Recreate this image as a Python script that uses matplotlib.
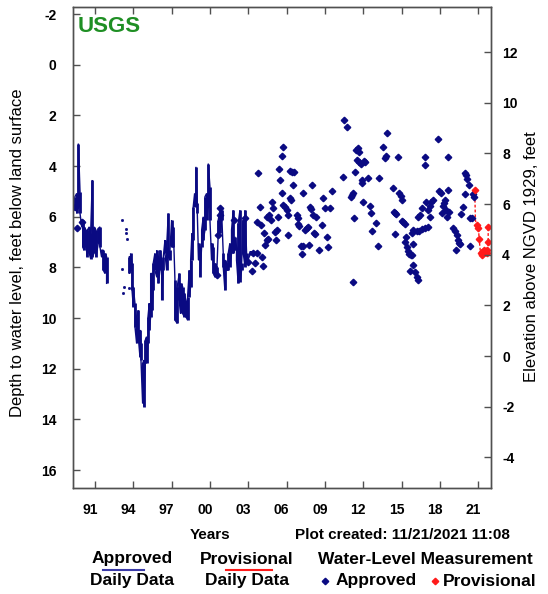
import numpy as np
import matplotlib
matplotlib.use("Agg")
import matplotlib.pyplot as plt
from matplotlib.transforms import ScaledTranslation

plt.rcParams['font.family'] = ['Liberation Sans', 'DejaVu Sans']

# ---- Daily data (approved): decimal year, shallowest and deepest depth of each period ----
daily1_year = [1989.30, 1989.43, 1989.57, 1989.70, 1989.83, 1989.96, 1990.04, 1990.14,
               1990.30, 1990.40, 1990.56, 1990.66, 1990.79, 1990.92, 1991.08, 1991.26,
               1991.39, 1991.52, 1991.65, 1991.78, 1991.91]
daily1_top = [5.34, 5.21, 5.08, 3.11, 5.01, 6.13, 6.13, 6.40, 6.53, 6.53, 6.40, 6.66, 4.55,
              6.40, 6.53, 6.46, 6.40, 7.32, 7.32, 7.45, 7.58]
daily1_bot = [5.61, 5.74, 5.87, 5.61, 5.87, 6.40, 7.19, 7.32, 7.19, 7.58, 7.45, 7.65, 7.58,
              7.45, 7.58, 7.05, 7.19, 7.58, 8.11, 8.24, 8.63]

daily2_year = [1993.69, 1993.79, 1993.90, 1994.00, 1994.13, 1994.26, 1994.39, 1994.52,
               1994.60, 1994.73, 1994.83, 1994.94, 1995.04, 1995.15, 1995.25, 1995.36,
               1995.46, 1995.56, 1995.69, 1995.83, 1995.96, 1996.09, 1996.22, 1996.35,
               1996.48, 1996.61, 1996.74, 1996.87, 1997.00, 1997.13, 1997.26, 1997.44,
               1997.60, 1997.70, 1997.86, 1997.99, 1998.12, 1998.25, 1998.38, 1998.49,
               1998.59, 1998.69, 1998.80, 1998.90, 1999.01, 1999.11, 1999.22, 1999.35,
               1999.48, 1999.61, 1999.74, 1999.87, 2000.00, 2000.13, 2000.26, 2000.39,
               2000.52, 2000.65, 2000.78, 2000.91, 2001.04, 2001.17, 2001.30, 2001.43,
               2001.56, 2001.69, 2001.82, 2001.95, 2002.08, 2002.21, 2002.35, 2002.48,
               2002.61, 2002.74, 2002.87, 2003.13, 2003.39, 2003.65, 2003.78]
daily2_top = [7.58, 7.45, 7.84, 8.76, 9.42, 9.95, 9.69, 10.47, 11.00, 11.79, 11.66, 10.87,
              10.74, 9.95, 9.42, 8.24, 8.24, 7.84, 7.45, 7.32, 7.58, 7.32, 7.71, 7.58,
              6.92, 7.19, 5.87, 7.32, 6.13, 6.40, 8.50, 8.76, 8.24, 8.63, 8.76, 9.03,
              9.29, 9.16, 8.11, 7.71, 6.66, 5.61, 5.08, 4.03, 5.47, 7.05, 7.18, 6.53,
              6.00, 5.21, 5.08, 3.90, 4.82, 7.05, 7.18, 7.84, 7.97, 6.13, 5.74, 5.74,
              7.45, 7.71, 7.84, 7.45, 7.05, 6.53, 5.74, 6.79, 7.18, 6.26, 5.74, 7.84,
              6.13, 5.74, 7.45, 7.38, 7.38, 7.38, 7.40]
daily2_bot = [8.24, 8.11, 8.90, 9.55, 10.34, 11.00, 10.74, 11.53, 11.66, 13.37, 13.50,
              11.79, 11.79, 11.00, 10.47, 9.95, 9.69, 8.90, 8.11, 8.37, 8.63, 8.11, 9.29,
              8.11, 7.45, 8.11, 7.58, 7.71, 7.18, 7.18, 10.08, 10.21, 9.29, 9.82, 9.82,
              9.95, 9.95, 10.08, 9.16, 8.76, 7.71, 6.92, 5.61, 5.47, 5.87, 7.71, 8.37,
              7.18, 6.92, 6.53, 6.13, 5.61, 6.13, 7.71, 8.24, 8.37, 8.37, 6.66, 6.66,
              6.13, 7.97, 8.90, 8.11, 8.11, 7.97, 7.45, 7.45, 7.32, 7.71, 8.63, 8.57,
              8.11, 7.45, 7.97, 7.84, 7.51, 7.51, 7.45, 7.50]

# Isolated daily values between the two records
daily_dot_year = [1993.09, 1993.40, 1993.43, 1993.53, 1993.09, 1993.30, 1993.16, 1993.63]
daily_dot_depth = [6.11, 6.50, 6.66, 6.86, 8.08, 8.76, 9.00, 8.83]

# ---- Provisional daily data ----
prov_daily_year = [2020.73, 2020.78, 2020.92, 2021.02, 2021.07, 2021.18, 2021.33, 2021.46,
                   2021.59, 2021.70, 2021.78, 2021.78]
prov_daily_depth = [4.95, 6.15, 6.33, 6.46, 6.86, 7.45, 7.38, 7.32, 7.38, 7.32, 6.99, 6.40]

# ---- Field water-level measurements (approved) ----
meas_year = [1989.40, 1989.57, 1989.96, 2000.52, 2000.65, 2000.78, 2000.78, 2001.90, 2002.76,
             2003.00, 2003.26, 2003.52, 2003.70, 2003.39, 2004.04, 2004.17, 2003.78, 2003.65,
             2003.91, 2003.96, 2004.22, 2004.30, 2004.43, 2004.56, 2004.43, 2004.64, 2004.75,
             2004.82, 2004.95, 2005.08, 2005.22, 2005.16, 2005.29, 2005.42, 2005.48, 2005.61,
             2005.61, 2005.74, 2005.74, 2005.87, 2006.00, 2006.13, 2006.13, 2006.26, 2006.44,
             2006.57, 2006.47, 2006.26, 2006.34, 2006.78, 2006.86, 2006.91, 2006.99, 2007.12,
             2007.17, 2007.30, 2007.25, 2007.43, 2007.56, 2007.69, 2007.77, 2007.82, 2007.90,
             2007.95, 2008.03, 2008.14, 2008.24, 2008.29, 2008.53, 2008.74, 2008.87, 2008.99,
             2009.13, 2009.21, 2009.39, 2009.57, 2010.43, 2010.48, 2010.69, 2011.16, 2011.03,
             2011.11, 2011.21, 2011.29, 2011.35, 2011.47, 2011.61, 2011.68, 2011.53, 2011.68,
             2011.81, 2011.87, 2011.94, 2012.05, 2012.13, 2012.00, 2012.34, 2012.52, 2012.57,
             2012.65, 2012.99, 2013.12, 2013.25, 2013.56, 2013.69, 2013.77, 2013.82, 2014.29,
             2014.40, 2014.50, 2014.60, 2014.47, 2014.74, 2014.81, 2014.92, 2015.00, 2015.05,
             2015.13, 2015.23, 2015.31, 2015.26, 2015.39, 2015.47, 2015.57, 2015.70, 2015.83,
             2015.86, 2015.78, 2015.91, 2015.65, 2016.04, 2016.17, 2016.30, 2015.91, 2016.17,
             2016.38, 2016.56, 2016.82, 2017.08, 2017.21, 2016.30, 2016.43, 2016.56, 2016.82,
             2016.82, 2016.90, 2017.08, 2017.21, 2017.34, 2017.47, 2017.86, 2017.94, 2018.05,
             2018.13, 2018.26, 2018.33, 2018.41, 2018.46, 2018.52, 2018.65, 2018.73, 2018.65,
             2019.04, 2019.17, 2019.30, 2019.38, 2019.46, 2019.56, 2019.25, 2019.69, 2019.77,
             2019.95, 2020.00, 2020.08, 2020.16, 2020.24, 2020.34, 2020.34, 2020.52, 2020.60,
             2020.68]
meas_depth = [5.61, 6.46, 6.20, 8.30, 6.72, 5.67, 5.93, 6.13, 6.04,
              7.78, 8.13, 7.84, 7.42, 7.42, 7.58, 7.95, 4.29, 6.20,
              5.61, 6.33, 6.66, 7.12, 6.92, 6.86, 6.00, 5.93, 6.13,
              5.41, 5.67, 6.59, 6.53, 6.92, 6.00, 4.13, 4.55, 5.05,
              3.61, 3.24, 5.54, 5.61, 5.74, 6.72, 5.93, 4.18, 4.22,
              4.25, 4.75, 5.28, 5.34, 5.93, 6.07, 6.29, 6.37, 7.14,
              7.47, 7.14, 5.05, 6.53, 6.46, 6.40, 7.12, 5.63, 5.71,
              4.75, 5.93, 6.63, 6.70, 6.00, 7.32, 6.33, 5.28, 5.67,
              6.79, 7.18, 5.67, 4.97, 4.42, 2.18, 2.47, 8.57, 5.21,
              5.14, 5.05, 6.07, 4.22, 3.37, 3.30, 3.43, 3.76, 3.84,
              3.92, 4.68, 4.55, 3.79, 3.83, 5.41, 4.49, 5.58, 5.84,
              6.55, 6.26, 7.14, 4.49, 3.24, 3.70, 3.61, 2.71, 4.88,
              5.80, 5.87, 5.89, 6.68, 3.66, 5.05, 5.17, 5.32, 6.16,
              6.22, 6.29, 6.79, 6.99, 7.18, 7.34, 7.47, 7.53, 7.53,
              7.09, 6.63, 7.91, 8.13, 8.17, 8.37, 8.50, 6.53, 6.55,
              6.55, 6.50, 6.46, 6.39, 6.00, 6.00, 5.93, 5.67, 3.96,
              3.66, 5.41, 5.74, 5.58, 5.41, 5.34, 2.95, 4.97, 5.08,
              5.87, 5.58, 5.47, 5.34, 5.74, 6.03, 4.95, 5.80, 3.66,
              6.46, 6.55, 6.72, 6.92, 7.05, 7.08, 7.32, 5.89, 5.61,
              5.12, 4.26, 4.37, 4.51, 4.75, 6.07, 7.14, 6.07, 5.11,
              5.21]

# ---- Field water-level measurements (provisional) ----
prov_meas_year = [2020.73, 2020.92, 2021.02, 2021.07, 2021.18, 2021.26, 2021.33, 2021.40,
                  2021.46, 2021.52, 2021.59, 2021.65, 2021.70, 2021.78, 2021.78]
prov_meas_depth = [4.95, 6.33, 6.46, 6.86, 7.45, 7.50, 7.38, 7.45, 7.32, 7.40, 7.38, 7.45,
                   7.32, 6.40, 6.99]

# ---- Axis settings ----
year_ticks = [1991, 1994, 1997, 2000, 2003, 2006, 2009, 2012, 2015, 2018, 2021]
year_labels = ['91', '94', '97', '00', '03', '06', '09', '12', '15', '18', '21']
depth_ticks = list(range(-2, 17, 2))
elev_ticks = list(range(-4, 13, 2))
datum_offset = 11.5   # land-surface elevation above NGVD 1929, feet

NAVY = '#0a0a82'
RED = '#ff1a1a'
GREEN = '#1f8f24'
SPINE = '#505050'
MS = 3.3

W, H = 548, 594
fig = plt.figure(figsize=(W / 100, H / 100), dpi=100)
ax = fig.add_axes([73 / W, 1 - 488 / H, (491 - 73) / W, (488 - 7) / H])


def zigzag(years, top, bot):
    xs, ys = [], []
    for i, (x, t, b) in enumerate(zip(years, top, bot)):
        xs += [x, x]
        ys += [t, b] if i % 2 == 0 else [b, t]
    return xs, ys


for yrs, tp, bt in [(daily1_year, daily1_top, daily1_bot), (daily2_year, daily2_top, daily2_bot)]:
    xs, ys = zigzag(yrs, tp, bt)
    ax.plot(xs, ys, color=NAVY, lw=1.0, solid_joinstyle='miter', zorder=2)
    ax.vlines(yrs, tp, bt, color=NAVY, lw=2.0, zorder=2)

ax.plot(daily_dot_year, daily_dot_depth, ls='none', marker='s', ms=1.0, color=NAVY, zorder=2)

ax.plot(prov_daily_year, prov_daily_depth, color=RED, lw=1.0, ls=(0, (2, 1.5)), zorder=2)

ax.plot(meas_year, meas_depth, ls='none', marker='D', ms=MS, color=NAVY, mec=NAVY, zorder=3)
ax.plot(prov_meas_year, prov_meas_depth, ls='none', marker='D', ms=MS, color=RED, mec=RED, zorder=3)

ax.set_xlim(1989.28, 2022.0)
ax.set_ylim(16.71, -2.28)

ax2 = ax.twinx()
ax2.set_ylim(datum_offset - 16.71, datum_offset + 2.28)
ax2.set_yticks(elev_ticks)
ax2.set_yticklabels([str(v) for v in elev_ticks])

ax.set_xticks(year_ticks)
ax.set_xticklabels(year_labels)
ax.set_yticks(depth_ticks)
ax.set_yticklabels([str(v) for v in depth_ticks])

ax.tick_params(axis='both', direction='in', length=5, width=1, color=SPINE, labelsize=10, top=True)
ax.tick_params(axis='x', pad=11)
ax.tick_params(axis='y', pad=12)
ax2.tick_params(axis='y', direction='in', length=5, width=1, color=SPINE, labelsize=10, pad=8)

for lab in ax.get_xticklabels() + ax.get_yticklabels() + ax2.get_yticklabels():
    lab.set_fontweight('bold')
shift = ScaledTranslation(-5 / 100, 0, fig.dpi_scale_trans)
for lab in ax.get_xticklabels():
    lab.set_transform(lab.get_transform() + shift)

for a in (ax, ax2):
    for sp in a.spines.values():
        sp.set_color(SPINE)
        sp.set_linewidth(1.0)

# Axis titles
fig.text(18 / W, 1 - 253 / H, 'Depth to water level, feet below land surface',
         rotation=90, ha='center', va='center', fontsize=12)
fig.text(532 / W, 1 - 257 / H, 'Elevation above NGVD 1929, feet',
         rotation=90, ha='center', va='center', fontsize=12)

# Agency mark
fig.text(78 / W, 1 - 27 / H, 'USGS', color=GREEN, fontsize=16, fontweight='bold',
         ha='left', va='center')

# Footer
fig.text(210 / W, 1 - 535 / H, 'Years', ha='center', va='center', fontsize=11, fontweight='bold')
fig.text(295 / W, 1 - 535 / H, 'Plot created: 11/21/2021 11:08', ha='left', va='center',
         fontsize=11, fontweight='bold')

# Legend
LEG = 12.5
row1, row2, line_y = 1 - 559 / H, 1 - 581 / H, 1 - 570 / H
fig.text(132 / W, row1, 'Approved', ha='center', va='center', fontsize=LEG, fontweight='bold')
fig.text(132 / W, row2, 'Daily Data', ha='center', va='center', fontsize=LEG, fontweight='bold')
fig.text(247 / W, row1, 'Provisional', ha='center', va='center', fontsize=LEG, fontweight='bold')
fig.text(247 / W, row2, 'Daily Data', ha='center', va='center', fontsize=LEG, fontweight='bold')
fig.text(318 / W, row1, 'Water-Level Measurement', ha='left', va='center', fontsize=LEG,
         fontweight='bold')
fig.text(336 / W, row2, 'Approved', ha='left', va='center', fontsize=LEG, fontweight='bold')
fig.text(443 / W, row2, 'Provisional', ha='left', va='center', fontsize=LEG, fontweight='bold')
fig.add_artist(plt.Line2D([103 / W, 144 / W], [line_y, line_y], color='#3a3aa8', lw=1.5,
                          transform=fig.transFigure))
fig.add_artist(plt.Line2D([226 / W, 272 / W], [line_y, line_y], color=RED, lw=1.5,
                          transform=fig.transFigure))
fig.add_artist(plt.Line2D([325 / W], [row2], marker='D', ms=MS, color=NAVY, ls='none',
                          transform=fig.transFigure))
fig.add_artist(plt.Line2D([435 / W], [row2], marker='D', ms=MS, color=RED, ls='none',
                          transform=fig.transFigure))

fig.savefig('out.png', dpi=100)
